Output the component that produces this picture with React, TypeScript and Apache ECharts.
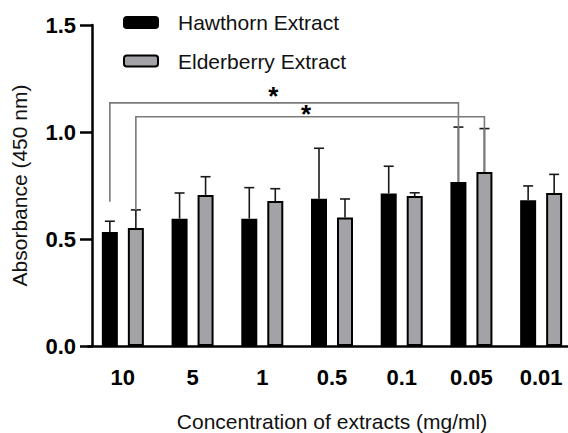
import React, { useEffect, useRef } from "react";
import * as echarts from "echarts";

const categories = ["10", "5", "1", "0.5", "0.1", "0.05", "0.01"];
const hawthornMean = [0.533, 0.595, 0.595, 0.688, 0.713, 0.766, 0.681];
const hawthornSd = [0.05, 0.12, 0.145, 0.236, 0.127, 0.257, 0.067];
const elderberryMean = [0.551, 0.706, 0.677, 0.601, 0.701, 0.813, 0.715];
const elderberrySd = [0.085, 0.085, 0.058, 0.086, 0.015, 0.203, 0.087];
const yTicks = [0, 0.5, 1.0, 1.5];

// significance brackets
const bracketFrom = [0, 0];
const bracketFromSeries = [0, 1];
const bracketTo = [5, 5];
const bracketToSeries = [0, 1];
const bracketTop = [1.136, 1.071];
const bracketLeftEnd = [0.674, 0.636];
const bracketRightEnd = [0.766, 0.813];
const starY = [1.176, 1.092];
const starPos = [0.469, 0.4885];

const FONT = '"Liberation Sans", Arial, sans-serif';
const SERIES_OFFSET = [-13, 13];

export default function App() {
  const ref = useRef<HTMLDivElement>(null);
  useEffect(() => {
    document.body.style.margin = "0";
    if (!ref.current) return;
    const chart = echarts.init(ref.current, null, { renderer: "svg" });

    const errorSeries = (name: string, means: number[], sds: number[], si: number) => ({
      type: "custom",
      name,
      z: 3,
      data: means.map((m, i) => [i, m, m + sds[i]]),
      encode: { x: 0, y: [1, 2] },
      renderItem: (params: any, api: any) => {
        const base = api.coord([api.value(0), api.value(1)]);
        const top = api.coord([api.value(0), api.value(2)]);
        const cx = base[0] + SERIES_OFFSET[si];
        const st = { stroke: "#1a1a1a", lineWidth: 1.6 };
        return {
          type: "group",
          children: [
            { type: "line", shape: { x1: cx, y1: base[1], x2: cx, y2: top[1] }, style: st },
            { type: "line", shape: { x1: cx - 5, y1: top[1], x2: cx + 5, y2: top[1] }, style: st },
          ],
        };
      },
    });

    chart.setOption({
      animation: false,
      grid: { left: 88, top: 25, width: 488, height: 321, containLabel: false, outerBoundsMode: "none" },
      legend: {
        data: ["Hawthorn Extract", "Elderberry Extract"],
        orient: "vertical",
        left: 123,
        top: 12,
        padding: 0,
        itemWidth: 34,
        itemHeight: 11,
        itemGap: 17.5,
        selectedMode: false,
        textStyle: { fontFamily: FONT, fontSize: 21, color: "#111", padding: [0, 0, 0, 15] },
      },
      xAxis: {
        type: "category",
        data: categories,
        name: "Concentration of extracts (mg/ml)",
        nameLocation: "middle",
        nameGap: 65,
        nameTextStyle: { fontFamily: FONT, fontSize: 21, color: "#111" },
        axisLine: { lineStyle: { color: "#000", width: 2.5 } },
        axisTick: { alignWithLabel: true, length: 12, lineStyle: { color: "#000", width: 2.5 } },
        axisLabel: { fontFamily: FONT, fontSize: 22, fontWeight: "bold", color: "#000", margin: 20 },
        splitLine: { show: false },
      },
      yAxis: {
        type: "value",
        min: yTicks[0],
        max: yTicks[yTicks.length - 1],
        interval: 0.5,
        offset: -4,
        name: "Absorbance (450 nm)",
        nameLocation: "middle",
        nameGap: 62,
        nameTextStyle: { fontFamily: FONT, fontSize: 21, color: "#111" },
        axisLine: { show: true, lineStyle: { color: "#000", width: 2.5 } },
        axisTick: { show: true, length: 12, lineStyle: { color: "#000", width: 2.5 } },
        axisLabel: {
          fontFamily: FONT,
          fontSize: 22,
          fontWeight: "bold",
          color: "#000",
          margin: 16,
          formatter: (v: number) => v.toFixed(1),
        },
        splitLine: { show: false },
      },
      series: [
        {
          type: "bar",
          name: "Hawthorn Extract",
          data: hawthornMean,
          barWidth: 16,
          barGap: "62.5%",
          itemStyle: { color: "#000", borderColor: "#000", borderWidth: 2 },
        },
        {
          type: "bar",
          name: "Elderberry Extract",
          data: elderberryMean,
          barWidth: 16,
          barGap: "62.5%",
          itemStyle: { color: "#a3a3a7", borderColor: "#000", borderWidth: 2 },
        },
        errorSeries("errH", hawthornMean, hawthornSd, 0),
        errorSeries("errE", elderberryMean, elderberrySd, 1),
        {
          type: "custom",
          name: "brackets",
          z: 4,
          data: bracketFrom.map((f, i) => [
            f,
            bracketFromSeries[i],
            bracketTo[i],
            bracketToSeries[i],
            bracketTop[i],
            bracketLeftEnd[i],
            bracketRightEnd[i],
            starY[i],
            starPos[i],
          ]),
          encode: { x: 0, y: 4 },
          renderItem: (params: any, api: any) => {
            const l = api.coord([api.value(0), api.value(5)]);
            const r = api.coord([api.value(2), api.value(6)]);
            const t = api.coord([api.value(0), api.value(4)]);
            const s = api.coord([api.value(0), api.value(7)]);
            const lx = l[0] + SERIES_OFFSET[api.value(1)];
            const rx = r[0] + SERIES_OFFSET[api.value(3)];
            const sx = lx + (rx - lx) * api.value(8);
            return {
              type: "group",
              children: [
                {
                  type: "polyline",
                  shape: { points: [[lx, l[1]], [lx, t[1]], [rx, t[1]], [rx, r[1]]] },
                  style: { stroke: "#7a7a7a", lineWidth: 1.6, fill: "none" },
                },
                {
                  type: "text",
                  x: sx,
                  y: s[1] + 2,
                  style: {
                    text: "*",
                    font: `bold 26px ${FONT}`,
                    fill: "#000",
                    align: "center",
                    verticalAlign: "middle",
                  },
                },
              ],
            };
          },
        },
      ],
    });
    return () => chart.dispose();
  }, []);
  return <div ref={ref} style={{ width: 568, height: 433 }} />;
}
